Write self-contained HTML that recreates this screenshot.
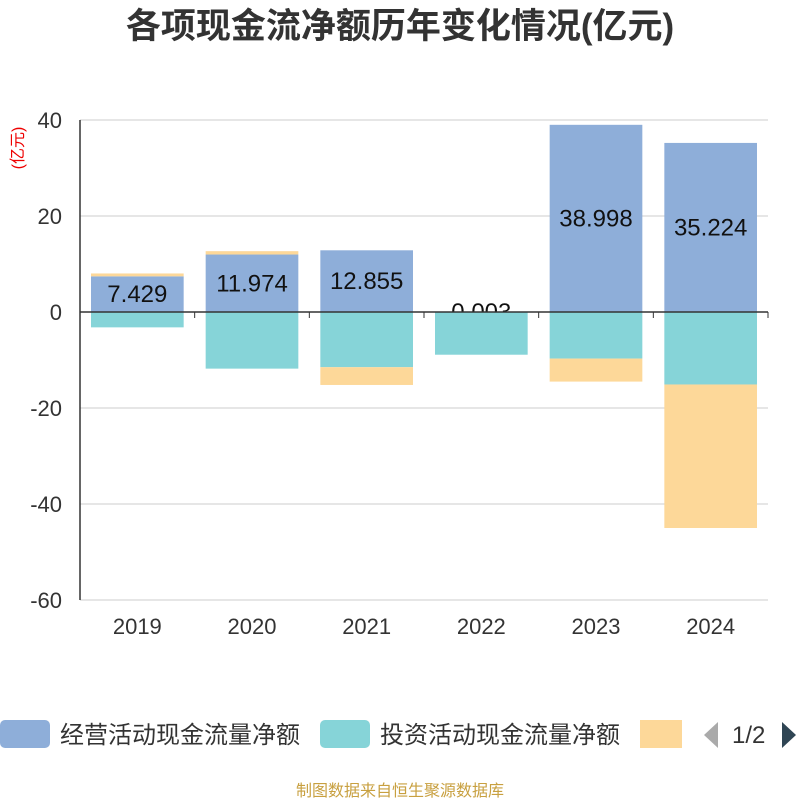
<!DOCTYPE html>
<html><head><meta charset="utf-8"><style>
body{margin:0;background:#fff;width:800px;height:800px;overflow:hidden;font-family:"Liberation Sans","Noto Sans CJK SC",sans-serif}
</style></head><body>
<svg id="c" width="800" height="800" xmlns="http://www.w3.org/2000/svg">
<text x="400" y="38" text-anchor="middle" font-size="35" font-weight="bold" fill="#333" font-family="Liberation Sans,Noto Sans CJK SC,sans-serif">各项现金流净额历年变化情况(亿元)</text>
<text transform="translate(23,148) rotate(-90)" text-anchor="middle" font-size="16" fill="#e00" font-family="Liberation Sans,Noto Sans CJK SC,sans-serif">(亿元)</text>
<g id="grid"></g><g id="bars"></g><g id="axes"></g>
<g font-family="Liberation Sans,Noto Sans CJK SC,sans-serif" font-size="24" fill="#333">
<rect x="0" y="720" width="50" height="28" rx="5" fill="#8eaed9"/>
<text x="60" y="743">经营活动现金流量净额</text>
<rect x="320" y="720" width="50" height="28" rx="5" fill="#86d4d8"/>
<text x="380" y="743">投资活动现金流量净额</text>
<rect x="640" y="720" width="42" height="28" fill="#fdd899"/>
<polygon points="718,722 718,748 704,735" fill="#aaa"/>
<text x="732" y="743">1/2</text>
<polygon points="782,722 782,748 796,735" fill="#2f4554"/>
</g>
<text x="400" y="796" text-anchor="middle" font-size="16" fill="#c8a040" font-family="Liberation Sans,Noto Sans CJK SC,sans-serif">制图数据来自恒生聚源数据库</text>
</svg>
<script>
const categories=["2019","2020","2021","2022","2023","2024"];
const operating=[7.429,11.974,12.855,0.003,38.998,35.224];
const investing=[-3.2,-11.8,-11.5,-8.9,-9.7,-15.1];
const financing=[0.6,0.7,-3.7,0.1,-4.8,-29.9];
const yTicks=[40,20,0,-20,-40,-60];
const NS="http://www.w3.org/2000/svg";
const L=80,R=768,T=120,B=600,yMax=40,yMin=-60;
const y=v=>T+(yMax-v)/(yMax-yMin)*(B-T);
const bw=(R-L)/categories.length;
const x=i=>L+bw*i;
function mk(tag,attrs,parent){const e=document.createElementNS(NS,tag);for(const k in attrs)e.setAttribute(k,attrs[k]);document.getElementById(parent).appendChild(e);return e;}
yTicks.forEach(t=>{
 const g=mk("line",{x1:L,x2:R,y1:y(t),y2:y(t),stroke:"#ccc","stroke-width":1},"grid");
 
 
 const tx=mk("text",{x:L-18,y:y(t)+8,"text-anchor":"end","font-size":22,fill:"#333"},"axes");
 tx.textContent=t;
 
 
});
const colors={op:"#8eaed9",inv:"#86d4d8",fin:"#fdd899"};
categories.forEach((c,i)=>{
 const bx=x(i)+11,w=bw-22;
 const pos=[0],neg=[0];
 function stack(v,col,name){
  let y0,y1;
  if(v>=0){y0=pos[0];y1=y0+v;pos[0]=y1;}else{y0=neg[0];y1=y0+v;neg[0]=y1;}
  const r=mk("rect",{x:bx,width:w,y:Math.min(y(y0),y(y1)),height:Math.abs(y(y1)-y(y0)),fill:col},"bars");
  
  
  return [y0,y1];
 }
 const o=stack(operating[i],colors.op,"bar-operating-"+c);
 const lt=mk("text",{x:bx+w/2,y:y((o[0]+o[1])/2)+8,"text-anchor":"middle","font-size":24,fill:"#111"},"bars");
 lt.textContent=operating[i].toFixed(3);
 
 
 stack(investing[i],colors.inv,"bar-investing-"+c);
 stack(financing[i],colors.fin,"bar-financing-"+c);
 const tk=mk("line",{x1:x(i),x2:x(i),y1:y(0),y2:y(0)+6,stroke:"#333"},"axes");
 
 
 const xl=mk("text",{x:x(i)+bw/2,y:B+34,"text-anchor":"middle","font-size":22,fill:"#333"},"axes");
 xl.textContent=c;
 
 
});
const tkE=mk("line",{x1:R,x2:R,y1:y(0),y2:y(0)+6,stroke:"#333"},"axes");


const xa=mk("line",{x1:L,x2:R,y1:y(0),y2:y(0),stroke:"#333","stroke-width":1.5},"axes");


const ya=mk("line",{x1:L,x2:L,y1:T,y2:B,stroke:"#333","stroke-width":1.5},"axes");


</script>
</body></html>
